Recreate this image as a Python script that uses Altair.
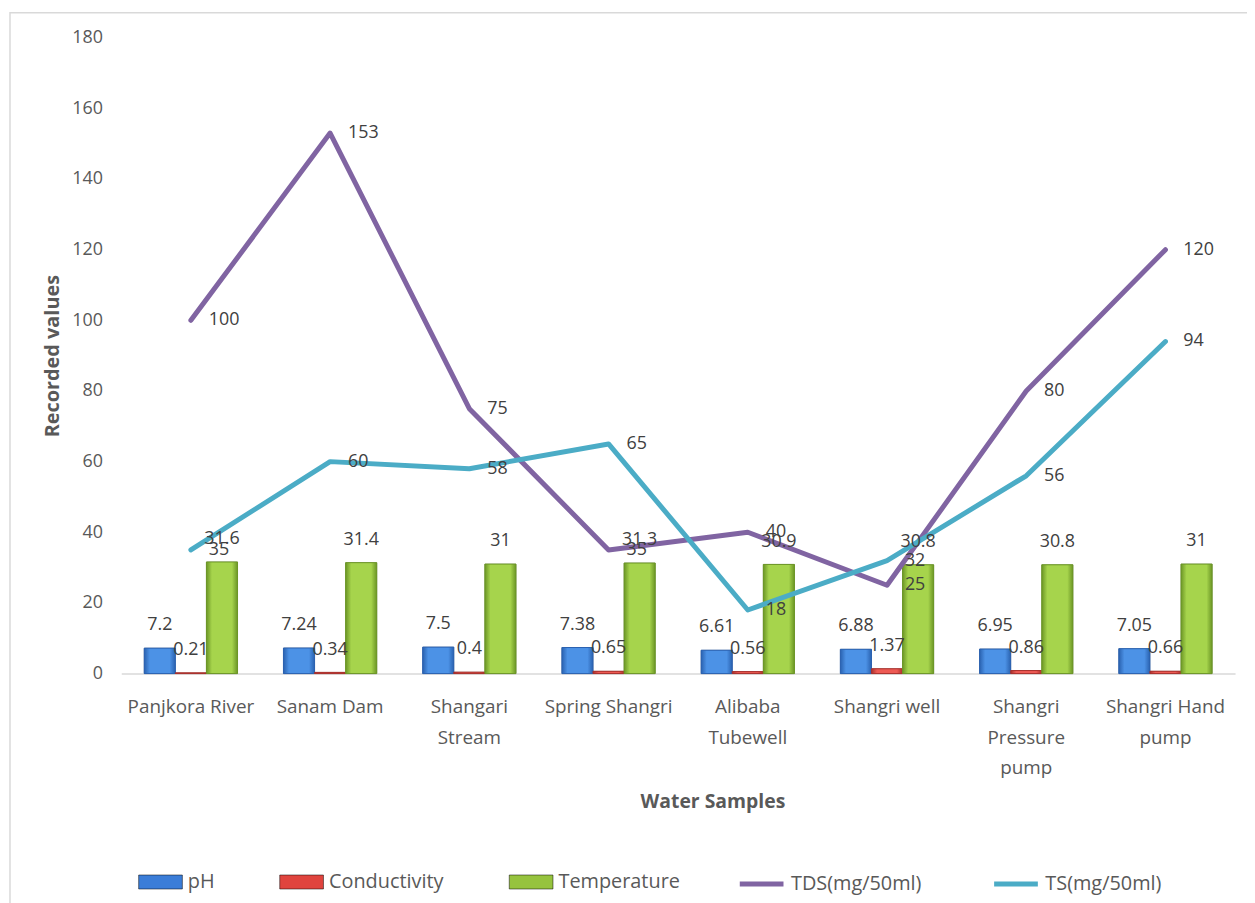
import json
import altair as alt
import pandas as pd

# ---------------- data ----------------
samples = ["Panjkora River", "Sanam Dam", "Shangari Stream", "Spring Shangri",
           "Alibaba Tubewell", "Shangri well", "Shangri Pressure pump", "Shangri Hand pump"]
tick_labels = ["Panjkora River", "Sanam Dam", "Shangari|Stream", "Spring Shangri",
               "Alibaba|Tubewell", "Shangri well", "Shangri|Pressure|pump", "Shangri Hand|pump"]

ph = [7.2, 7.24, 7.5, 7.38, 6.61, 6.88, 6.95, 7.05]
conductivity = [0.21, 0.34, 0.4, 0.65, 0.56, 1.37, 0.86, 0.66]
temperature = [31.6, 31.4, 31, 31.3, 30.9, 30.8, 30.8, 31]
tds = [100, 153, 75, 35, 40, 25, 80, 120]
ts = [35, 60, 58, 65, 18, 32, 56, 94]

bar_params = ["pH", "Conductivity", "Temperature"]
bar_colors = ["#3B7DD8", "#E0443E", "#96C33E"]
bar_edges = ["#2A62B0", "#A8302C", "#6C9626"]
bar_lights = ["#4C92E6", "#EE5A54", "#A6D44C"]
line_series = ["TDS(mg/50ml)", "TS(mg/50ml)"]
line_colors = ["#8064A2", "#4BACC6"]

y_ticks = list(range(0, 181, 20))

# ---------------- tables ----------------
bar_rows = []
for p, vals in zip(bar_params, [ph, conductivity, temperature]):
    for s, v in zip(samples, vals):
        bar_rows.append({"sample": s, "param": p, "value": v, "label": f"{v:g}"})
bars_df = pd.DataFrame(bar_rows)

line_rows = []
for name, vals in zip(line_series, [tds, ts]):
    for s, v in zip(samples, vals):
        line_rows.append({"sample": s, "series": name, "value": v, "label": f"{v:g}"})
lines_df = pd.DataFrame(line_rows)

label_map = "{" + ",".join(
    json.dumps(s) + ":" + json.dumps(t.split("|")) for s, t in zip(samples, tick_labels)
) + "}"

FONT = "Open Sans"
TXT = "#595959"

x_enc = alt.X(
    "sample:N",
    sort=samples,
    scale=alt.Scale(domain=samples, paddingInner=0.33, paddingOuter=0.165),
    axis=alt.Axis(
        title="Water Samples",
        labelExpr=label_map + "[datum.value]",
        labelAngle=0,
        ticks=False,
        domainColor="#d9d9d9",
        domainWidth=1.5,
        labelPadding=24,
        labelLineHeight=31,
        labelFontSize=19,
        labelColor=TXT,
        labelFont=FONT,
        titleFont=FONT,
        titleFontSize=19.5,
        titleFontWeight="bold",
        titleColor=TXT,
        titleX=595,
        titleY=129,
        titleBaseline="middle",
    ),
)

y_enc = alt.Y(
    "value:Q",
    scale=alt.Scale(domain=[0, 180], nice=False),
    axis=alt.Axis(
        values=y_ticks,
        title="Recorded values",
        grid=False,
        domain=False,
        ticks=False,
        labelPadding=19,
        labelFontSize=18,
        labelColor=TXT,
        labelFont=FONT,
        titleFont=FONT,
        titleFontSize=20,
        titleFontWeight="bold",
        titleColor=TXT,
        titlePadding=9,
    ),
)

x_plain = alt.X("sample:N", sort=samples)
xoff_plain = alt.XOffset("param:N", sort=bar_params)

frame = alt.Chart(pd.DataFrame({"a": [0]})).mark_rect(
    fill="transparent", stroke="#d9d9d9", strokeWidth=1.5
).encode(
    x=alt.value(-112), x2=alt.value(1300), y=alt.value(-25), y2=alt.value(1000)
)

bars = alt.Chart(bars_df).mark_bar(
    stroke="black", strokeOpacity=0.25, strokeWidth=1
).encode(
    x=x_enc,
    xOffset=alt.XOffset("param:N", sort=bar_params,
                        scale=alt.Scale(domain=bar_params, paddingInner=0, paddingOuter=0)),
    y=y_enc,
    color=alt.Color(
        "param:N",
        scale=alt.Scale(domain=bar_params, range=bar_colors),
        legend=alt.Legend(
            title=None,
            orient="none",
            legendX=17,
            legendY=827,
            direction="horizontal",
            symbolType="M-1,-0.32H1V0.32H-1Z",
            symbolSize=1936,
            symbolStrokeWidth=0.5,
            labelOffset=5,
            columnPadding=64,
            padding=0,
            labelFont=FONT,
            labelFontSize=20,
            labelColor=TXT,
        ),
    ),
)

# bevelled shading drawn over the plain bars, one layer per parameter
shade_layers = []
for p, edge, light in zip(bar_params, bar_edges, bar_lights):
    grad = {
        "gradient": "linear", "x1": 0, "x2": 1, "y1": 0, "y2": 0,
        "stops": [
            {"offset": 0, "color": edge},
            {"offset": 0.18, "color": light},
            {"offset": 0.82, "color": light},
            {"offset": 1, "color": edge},
        ],
    }
    shade_layers.append(
        alt.Chart(bars_df).transform_filter(alt.datum.param == p).mark_bar(
            color=grad, stroke=edge, strokeWidth=1
        ).encode(x=x_plain, xOffset=xoff_plain, y=alt.Y("value:Q"))
    )

bar_labels = alt.Chart(bars_df).mark_text(
    baseline="middle", dy=-23, font=FONT, fontSize=18, color="#404040"
).encode(
    x=x_plain,
    xOffset=xoff_plain,
    y=alt.Y("value:Q"),
    text="label:N",
)

lines = alt.Chart(lines_df).mark_line(
    strokeWidth=5, strokeJoin="round", strokeCap="round"
).encode(
    x=x_plain,
    y=alt.Y("value:Q"),
    stroke=alt.Stroke(
        "series:N",
        scale=alt.Scale(domain=line_series, range=line_colors),
        legend=alt.Legend(
            title=None,
            orient="none",
            legendX=620,
            legendY=827,
            direction="horizontal",
            symbolType="stroke",
            symbolSize=1936,
            symbolStrokeWidth=5,
            labelOffset=5,
            columnPadding=62,
            padding=0,
            labelFont=FONT,
            labelFontSize=20,
            labelColor=TXT,
        ),
    ),
)

line_labels = alt.Chart(lines_df).mark_text(
    align="left", baseline="middle", dx=18, font=FONT, fontSize=18, color="#404040"
).encode(
    x=x_plain,
    y=alt.Y("value:Q"),
    text="label:N",
)

chart = alt.layer(frame, bars, *shade_layers, lines, bar_labels, line_labels).properties(
    width=1121,
    height=640,
    padding={"left": 114, "top": 27, "right": 12, "bottom": 228},
    autosize=alt.AutoSizeParams(type="none"),
    background="white",
).configure_view(stroke=None)

chart.save("out.html", embed_options={"renderer": "svg", "actions": False})
